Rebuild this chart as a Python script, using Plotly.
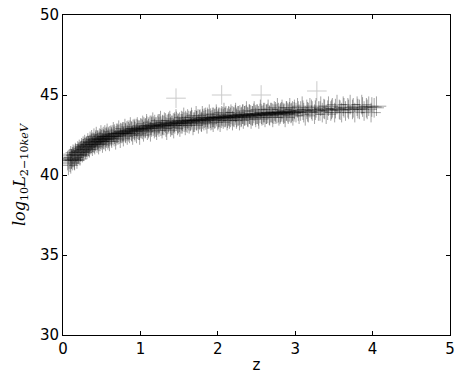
import plotly.graph_objects as go

z_vals = [
    0.06, 0.07, 0.08, 0.09, 0.10, 0.10, 0.11, 0.12, 0.13, 0.14, 0.15, 0.16, 0.17, 0.18, 0.19, 0.20,
    0.21, 0.22, 0.23, 0.24, 0.25, 0.26, 0.27, 0.28, 0.29, 0.30,
    0.31, 0.32, 0.33, 0.34, 0.35, 0.36, 0.37, 0.38, 0.39, 0.40, 0.41, 0.42, 0.43, 0.44, 0.45, 0.46,
    0.47, 0.48, 0.49, 0.50, 0.51, 0.52, 0.53, 0.54, 0.55, 0.56, 0.57, 0.58, 0.59, 0.60,
    0.62, 0.63, 0.65, 0.66, 0.68, 0.69, 0.71, 0.72, 0.74, 0.75, 0.77, 0.78, 0.80, 0.81, 0.83, 0.84,
    0.86, 0.87, 0.89, 0.90, 0.92, 0.93, 0.95, 0.96, 0.98, 0.99,
    1.01, 1.03, 1.04, 1.06, 1.08, 1.09, 1.11, 1.13, 1.14, 1.16, 1.18, 1.19, 1.21, 1.23, 1.24, 1.26,
    1.28, 1.29, 1.31, 1.33, 1.34, 1.36, 1.38, 1.39, 1.41, 1.43, 1.44, 1.46, 1.48, 1.49, 1.51, 1.53,
    1.54, 1.56, 1.58, 1.59,
    1.61, 1.63, 1.65, 1.66, 1.68, 1.70, 1.72, 1.73, 1.75, 1.77, 1.79, 1.80, 1.82, 1.84, 1.86, 1.87,
    1.89, 1.91, 1.93, 1.94, 1.96, 1.98, 2.00, 2.01, 2.03, 2.05, 2.07, 2.08, 2.10, 2.12, 2.14, 2.15,
    2.17, 2.19, 2.21, 2.23, 2.24, 2.26, 2.28, 2.30, 2.32, 2.33, 2.35, 2.37, 2.39,
    2.41, 2.43, 2.45, 2.47, 2.49, 2.51, 2.53, 2.55, 2.57, 2.59, 2.61, 2.63, 2.65, 2.67, 2.69, 2.71,
    2.73, 2.75, 2.77, 2.79, 2.81, 2.83, 2.85, 2.87, 2.89, 2.91, 2.93, 2.95, 2.97, 2.99, 3.01, 3.03,
    3.05, 3.07, 3.09, 3.11, 3.13, 3.15, 3.17, 3.19,
    3.22, 3.25, 3.27, 3.30, 3.33, 3.35, 3.38, 3.40, 3.43, 3.46, 3.48, 3.51, 3.54, 3.57, 3.60, 3.62,
    3.65, 3.68, 3.71, 3.74, 3.77, 3.80, 3.83, 3.86, 3.89, 3.92, 3.95, 3.98, 4.02, 4.05,
]

logL_vals = [
    40.9, 40.6, 41.0, 40.8, 41.2, 40.7, 41.0, 40.9, 41.3, 41.1, 40.9, 41.4, 41.2, 41.0, 41.5, 41.3,
    41.6, 41.2, 41.5, 41.7, 41.4, 41.8, 41.5, 41.9, 41.6, 41.8,
    41.6, 42.0, 41.8, 41.7, 42.1, 41.9, 42.2, 41.8, 42.0, 42.3, 41.9, 42.1, 42.4, 42.0, 42.2, 41.9,
    42.3, 42.1, 42.5, 42.2, 42.0, 42.4, 42.2, 42.5, 42.1, 42.3, 42.6, 42.2, 42.4, 42.1,
    42.5, 42.3, 42.7, 42.4, 42.2, 42.6, 42.5, 42.8, 42.3, 42.6, 42.7, 42.4, 42.9, 42.6, 42.5, 42.8,
    42.6, 43.0, 42.7, 42.5, 42.9, 42.7, 42.6, 43.0, 42.8, 42.5,
    42.9, 43.1, 42.7, 42.9, 43.2, 42.8, 43.0, 42.7, 43.1, 43.3, 42.9, 43.0, 42.8, 43.2, 43.0, 43.4,
    42.9, 43.1, 43.3, 43.0, 42.8, 43.2, 43.4, 43.0, 43.1, 42.9, 43.3, 43.5, 43.1, 43.2, 43.0, 43.4,
    43.2, 43.6, 43.1, 43.3,
    43.5, 43.2, 43.4, 43.6, 43.1, 43.3, 43.7, 43.4, 43.2, 43.5, 43.3, 43.7, 43.4, 43.6, 43.2, 43.5,
    43.8, 43.4, 43.6, 43.3, 43.5, 43.8, 43.4, 43.6, 43.3, 43.7, 43.5, 43.9, 43.6, 43.4, 43.7, 43.5,
    43.8, 43.4, 43.6, 43.9, 43.5, 43.7, 43.4, 43.6, 43.8, 43.5, 43.7, 44.0, 43.6,
    43.8, 43.5, 43.7, 44.0, 43.6, 43.8, 43.5, 44.1, 43.7, 43.9, 43.6, 43.8, 44.1, 43.7, 43.9, 43.6,
    44.0, 43.8, 44.2, 43.7, 43.9, 44.1, 43.8, 43.6, 44.0, 43.8, 44.2, 43.9, 43.7, 44.1, 43.9, 44.2,
    43.8, 44.0, 44.3, 43.9, 43.7, 44.1, 43.9, 44.2,
    44.0, 43.8, 44.2, 44.0, 44.3, 43.9, 44.1, 43.8, 44.3, 44.0, 44.2, 43.9, 44.4, 44.1, 43.9, 44.3,
    44.0, 44.2, 44.4, 44.1, 43.9, 44.3, 44.1, 44.4, 44.0, 44.2, 44.3, 43.9, 44.2, 44.3,
]

# second, denser group of sources near the core of the relation
z_core = [
    0.105, 0.125, 0.145, 0.165, 0.185, 0.205, 0.225, 0.245, 0.265, 0.285, 0.305, 0.325, 0.345,
    0.365, 0.385, 0.405, 0.425, 0.445, 0.465, 0.485, 0.505, 0.525, 0.545, 0.565, 0.585, 0.605,
    0.625, 0.645, 0.665, 0.685, 0.705, 0.725, 0.745, 0.765, 0.785, 0.805, 0.825, 0.845, 0.865,
    0.885, 0.905, 0.925, 0.945, 0.965, 0.985,
    1.005, 1.025, 1.045, 1.065, 1.085, 1.105, 1.125, 1.145, 1.165, 1.185, 1.205, 1.225, 1.245,
    1.265, 1.285, 1.305, 1.325, 1.345, 1.365, 1.385, 1.405, 1.425, 1.445, 1.465, 1.485, 1.505,
    1.525, 1.545, 1.565, 1.585, 1.605, 1.625, 1.645, 1.665, 1.685, 1.705, 1.725, 1.745, 1.765,
    1.785, 1.805, 1.825, 1.845, 1.865, 1.885, 1.905, 1.925, 1.945, 1.965, 1.985, 2.005, 2.025,
    2.045, 2.065, 2.085, 2.105, 2.125, 2.145, 2.165, 2.185, 2.205, 2.225, 2.245, 2.265, 2.285,
    2.305, 2.325, 2.345, 2.365, 2.385, 2.405, 2.425, 2.445, 2.465, 2.485, 2.505, 2.525, 2.545,
    2.565, 2.585, 2.605, 2.625, 2.645, 2.665, 2.685, 2.705, 2.725, 2.745, 2.765, 2.785, 2.805,
    2.825, 2.845, 2.865, 2.885, 2.905, 2.925, 2.945, 2.965, 2.985,
    3.04, 3.10, 3.16, 3.21, 3.26, 3.32, 3.37, 3.42, 3.47, 3.52, 3.58, 3.63, 3.69, 3.75, 3.81,
    3.87, 3.93, 3.99,
]

logL_core = [
    41.0, 41.1, 40.95, 41.25, 41.3, 41.4, 41.45, 41.55, 41.65, 41.7, 41.75, 41.85, 41.9,
    42.0, 42.05, 42.0, 42.2, 42.15, 42.1, 42.25, 42.3, 42.25, 42.35, 42.4, 42.3, 42.45,
    42.4, 42.5, 42.55, 42.45, 42.6, 42.55, 42.65, 42.6, 42.7, 42.65, 42.75, 42.7, 42.8,
    42.75, 42.85, 42.8, 42.9, 42.85, 42.8,
    42.95, 42.85, 43.0, 42.95, 43.05, 42.9, 43.1, 43.0, 43.05, 43.15, 43.0, 43.1, 43.2,
    43.05, 43.15, 43.1, 43.25, 43.15, 43.3, 43.2, 43.1, 43.25, 43.2, 43.35, 43.25, 43.3,
    43.2, 43.35, 43.3, 43.4, 43.25, 43.4, 43.35, 43.45, 43.3, 43.45, 43.4, 43.5, 43.45,
    43.35, 43.5, 43.55, 43.45, 43.6, 43.5, 43.55, 43.45, 43.6, 43.55, 43.65, 43.5, 43.6,
    43.55, 43.65, 43.6, 43.7, 43.55, 43.65, 43.6, 43.7, 43.65, 43.75, 43.6, 43.7, 43.75,
    43.65, 43.8, 43.7, 43.75, 43.65, 43.8, 43.75, 43.7, 43.85, 43.75, 43.8, 43.7, 43.85,
    43.8, 43.75, 43.9, 43.8, 43.85, 43.75, 43.9, 43.85, 43.8, 43.95, 43.85, 43.9, 43.8,
    43.95, 43.9, 43.85, 44.0, 43.9, 43.95, 43.85, 44.0, 43.95,
    44.0, 44.05, 43.95, 44.1, 44.05, 44.0, 44.15, 44.05, 44.1, 44.15, 44.05, 44.2, 44.1,
    44.2, 44.15, 44.25, 44.1, 44.25,
]

# isolated bright sources above the relation
z_outlier = [1.46, 2.05, 2.56, 3.28]
logL_outlier = [44.8, 45.0, 45.0, 45.25]

x_ticks = [0, 1, 2, 3, 4, 5]
y_ticks = [30, 35, 40, 45, 50]


def cross(opacity):
    return dict(symbol="cross-thin", size=14, opacity=opacity,
                line=dict(color="black", width=1))


fig = go.Figure()
fig.add_trace(go.Scatter(x=z_vals, y=logL_vals, mode="markers",
                         marker=cross(0.35), showlegend=False))
fig.add_trace(go.Scatter(x=z_core, y=logL_core, mode="markers",
                         marker=cross(0.35), showlegend=False))
fig.add_trace(go.Scatter(x=z_outlier, y=logL_outlier, mode="markers",
                         marker=cross(0.2), showlegend=False))

axis_common = dict(
    showline=True, linecolor="black", linewidth=1, mirror="ticks",
    ticks="inside", ticklen=4, tickwidth=1, tickcolor="black",
    showgrid=False, zeroline=False, automargin=False,
    tickfont=dict(family="DejaVu Sans", size=15, color="black"),
)

fig.update_layout(
    width=465, height=379,
    margin=dict(l=63, r=15, t=15, b=44),
    paper_bgcolor="white", plot_bgcolor="white",
    xaxis=dict(range=[0, 5], tickvals=x_ticks, ticktext=[str(t) for t in x_ticks],
               title=dict(text="z", standoff=2,
                          font=dict(family="DejaVu Sans", size=15, color="black")),
               **axis_common),
    yaxis=dict(range=[30, 50], tickvals=y_ticks, ticktext=[str(t) for t in y_ticks],
               title=dict(text="<i>log</i><sub>10</sub><i>L</i><sub>2−10<i>keV</i></sub>", standoff=10,
                          font=dict(family="DejaVu Serif", size=16, color="black")),
               **axis_common),
)

fig.write_html("out.html", config={"displayModeBar": False},
               post_script="document.body.style.margin='0';document.body.style.overflow='hidden';")
